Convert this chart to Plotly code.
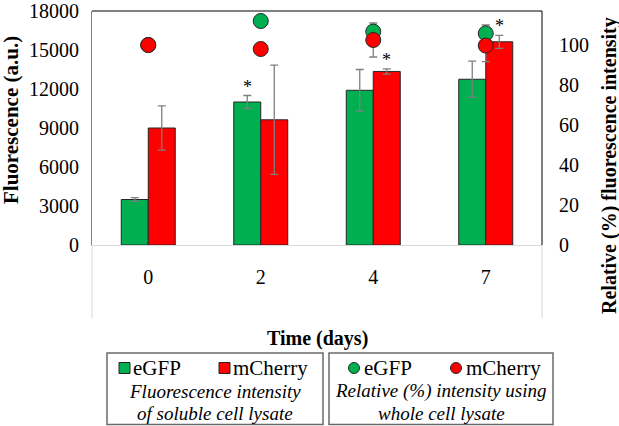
import plotly.graph_objects as go

# ---- data ----
days = ["0", "2", "4", "7"]
egfp_fluor = [3500, 11000, 11900, 12750]
egfp_fluor_err = [150, 500, 1600, 1400]
mcherry_fluor = [9000, 9630, 13350, 15630]
mcherry_fluor_err = [1700, 4200, 200, 500]
egfp_rel = [100, 112, 106.7, 105.8]
egfp_rel_err = [0, 0, 0, 4.2]
mcherry_rel = [100, 98, 102.5, 99.7]
mcherry_rel_err = [0, 0, 8.5, 8]
egfp_sig = ["", "*", "", ""]
mcherry_sig = ["", "", "*", "*"]
left_ticks = [0, 3000, 6000, 9000, 12000, 15000, 18000]
right_ticks = [0, 20, 40, 60, 80, 100]

GREEN = "#00B050"
RED = "#FF0000"
ERRC = "#7f7f7f"
FONT = "Liberation Serif"

# plot area in pixels
L, R, T, B = 92, 542, 11, 245
W, H = 619, 426


def px(x):
    return (x - L) / (R - L)


def py(y):
    return (B - y) / (B - T)


fig = go.Figure()

fig.add_trace(go.Bar(
    x=days, y=egfp_fluor, name="eGFP", marker=dict(color=GREEN, line=dict(color="#262626", width=1)),
    error_y=dict(type="data", array=egfp_fluor_err, color=ERRC, thickness=1.3, width=4),
    yaxis="y", showlegend=False))
fig.add_trace(go.Bar(
    x=days, y=mcherry_fluor, name="mCherry", marker=dict(color=RED, line=dict(color="#262626", width=1)),
    error_y=dict(type="data", array=mcherry_fluor_err, color=ERRC, thickness=1.3, width=4),
    yaxis="y", showlegend=False))

# error bars for relative values (drawn beneath circles)
for vals, errs in [(egfp_rel, egfp_rel_err), (mcherry_rel, mcherry_rel_err)]:
    fig.add_trace(go.Scatter(
        x=days, y=vals, mode="markers", yaxis="y2",
        marker=dict(size=1, color="rgba(0,0,0,0)"),
        error_y=dict(type="data", array=errs, color=ERRC, thickness=1.3, width=4),
        showlegend=False, hoverinfo="skip"))

fig.add_trace(go.Scatter(
    x=days, y=egfp_rel, mode="markers", yaxis="y2", name="eGFP",
    marker=dict(size=15, color=GREEN, line=dict(color="#262626", width=1)), showlegend=False))
fig.add_trace(go.Scatter(
    x=days, y=mcherry_rel, mode="markers", yaxis="y2", name="mCherry",
    marker=dict(size=15, color=RED, line=dict(color="#262626", width=1)), showlegend=False))

annotations = []
bar_half = 13.5
for i, d in enumerate(days):
    if egfp_sig[i]:
        annotations.append(dict(x=i, y=egfp_fluor[i] + egfp_fluor_err[i], xref="x", yref="y",
                                xshift=-bar_half, yshift=-3, text=egfp_sig[i], showarrow=False,
                                xanchor="center", yanchor="bottom",
                                font=dict(family=FONT, size=18, color="black")))
    if mcherry_sig[i]:
        annotations.append(dict(x=i, y=mcherry_fluor[i] + mcherry_fluor_err[i], xref="x", yref="y",
                                xshift=bar_half, yshift=-3, text=mcherry_sig[i], showarrow=False,
                                xanchor="center", yanchor="bottom",
                                font=dict(family=FONT, size=18, color="black")))


def txt(xp, yp, text, size, angle=0, xanchor="center"):
    annotations.append(dict(x=px(xp), y=py(yp), xref="paper", yref="paper", text=text,
                            textangle=angle, showarrow=False, xanchor=xanchor, yanchor="middle",
                            font=dict(family=FONT, size=size, color="black")))


# titles
txt(317, 338, "<b>Time (days)</b>", 20)
txt(11, 120, "<b>Fluorescence (a.u.)</b>", 21, angle=-90)
txt(609, 166, "<b>Relative (%) fluorescence intensity</b>", 20, angle=-90)

shapes = []
# plot frame top & right
shapes.append(dict(type="line", xref="paper", yref="paper", x0=0, x1=1, y0=1, y1=1,
                   line=dict(color="black", width=1)))
shapes.append(dict(type="line", xref="paper", yref="paper", x0=1, x1=1, y0=0, y1=1,
                   line=dict(color="black", width=1)))
# extension of frame below axis
for xx in (0, 1):
    shapes.append(dict(type="line", xref="paper", yref="paper", x0=xx, x1=xx, y0=py(318), y1=0,
                       line=dict(color="#d9d9d9", width=1)))

# legend boxes
BOXC = "#6a6a6a"
legend_boxes = [(107, 323), (329, 553)]
for x0, x1 in legend_boxes:
    shapes.append(dict(type="rect", xref="paper", yref="paper", x0=px(x0), x1=px(x1),
                       y0=py(424.5), y1=py(353), line=dict(color=BOXC, width=1.5)))

leg_y = 368
sq = 5.5
for cx, col in [(124.5, GREEN), (224.5, RED)]:
    shapes.append(dict(type="rect", xref="paper", yref="paper", x0=px(cx - sq), x1=px(cx + sq),
                       y0=py(leg_y + sq), y1=py(leg_y - sq), fillcolor=col,
                       line=dict(color="#262626", width=1)))
for cx, col in [(354, GREEN), (456, RED)]:
    shapes.append(dict(type="circle", xref="paper", yref="paper", x0=px(cx - sq), x1=px(cx + sq),
                       y0=py(leg_y + sq), y1=py(leg_y - sq), fillcolor=col,
                       line=dict(color="#262626", width=1)))

for x0, t in [(131, "eGFP"), (231, "mCherry"), (362, "eGFP"), (464, "mCherry")]:
    txt(x0, leg_y, t, 21, xanchor="left")

for cx, cy, t in [(215, 391, "Fluorescence intensity"), (215, 413, "of soluble cell lysate"),
                  (441, 391, "Relative (%) intensity using"), (441, 413, "whole cell lysate")]:
    txt(cx, cy, "<i>" + t + "</i>", 19)

fig.update_layout(
    width=W, height=H,
    margin=dict(l=L, r=W - R, t=T, b=H - B, pad=0, autoexpand=False),
    paper_bgcolor="white", plot_bgcolor="white",
    barmode="group", bargap=0.52, bargroupgap=0,
    showlegend=False,
    font=dict(family=FONT, size=20, color="black"),
    xaxis=dict(type="category", range=[-0.5, 3.5], showline=True, linecolor="#d9d9d9", linewidth=1,
               showgrid=False, ticks="", ticklabelstandoff=14, automargin=False,
               tickfont=dict(family=FONT, size=20, color="black"), zeroline=False),
    yaxis=dict(range=[0, 18000], tickvals=left_ticks, ticktext=[str(v) for v in left_ticks],
               showline=True, linecolor="#7f7f7f", linewidth=1, showgrid=False, zeroline=False,
               ticks="", ticklabelstandoff=8, ticklabeloverflow="allow", automargin=False,
               tickfont=dict(family=FONT, size=20, color="black")),
    yaxis2=dict(range=[0, 117], tickvals=right_ticks, overlaying="y", side="right",
                showline=False, showgrid=False, zeroline=False, ticks="", ticklabelstandoff=16,
                automargin=False, tickfont=dict(family=FONT, size=20, color="black")),
    annotations=annotations,
    shapes=shapes,
)

fig.write_html("out.html", config={"displayModeBar": False},
               post_script="document.body.style.margin='0';")
